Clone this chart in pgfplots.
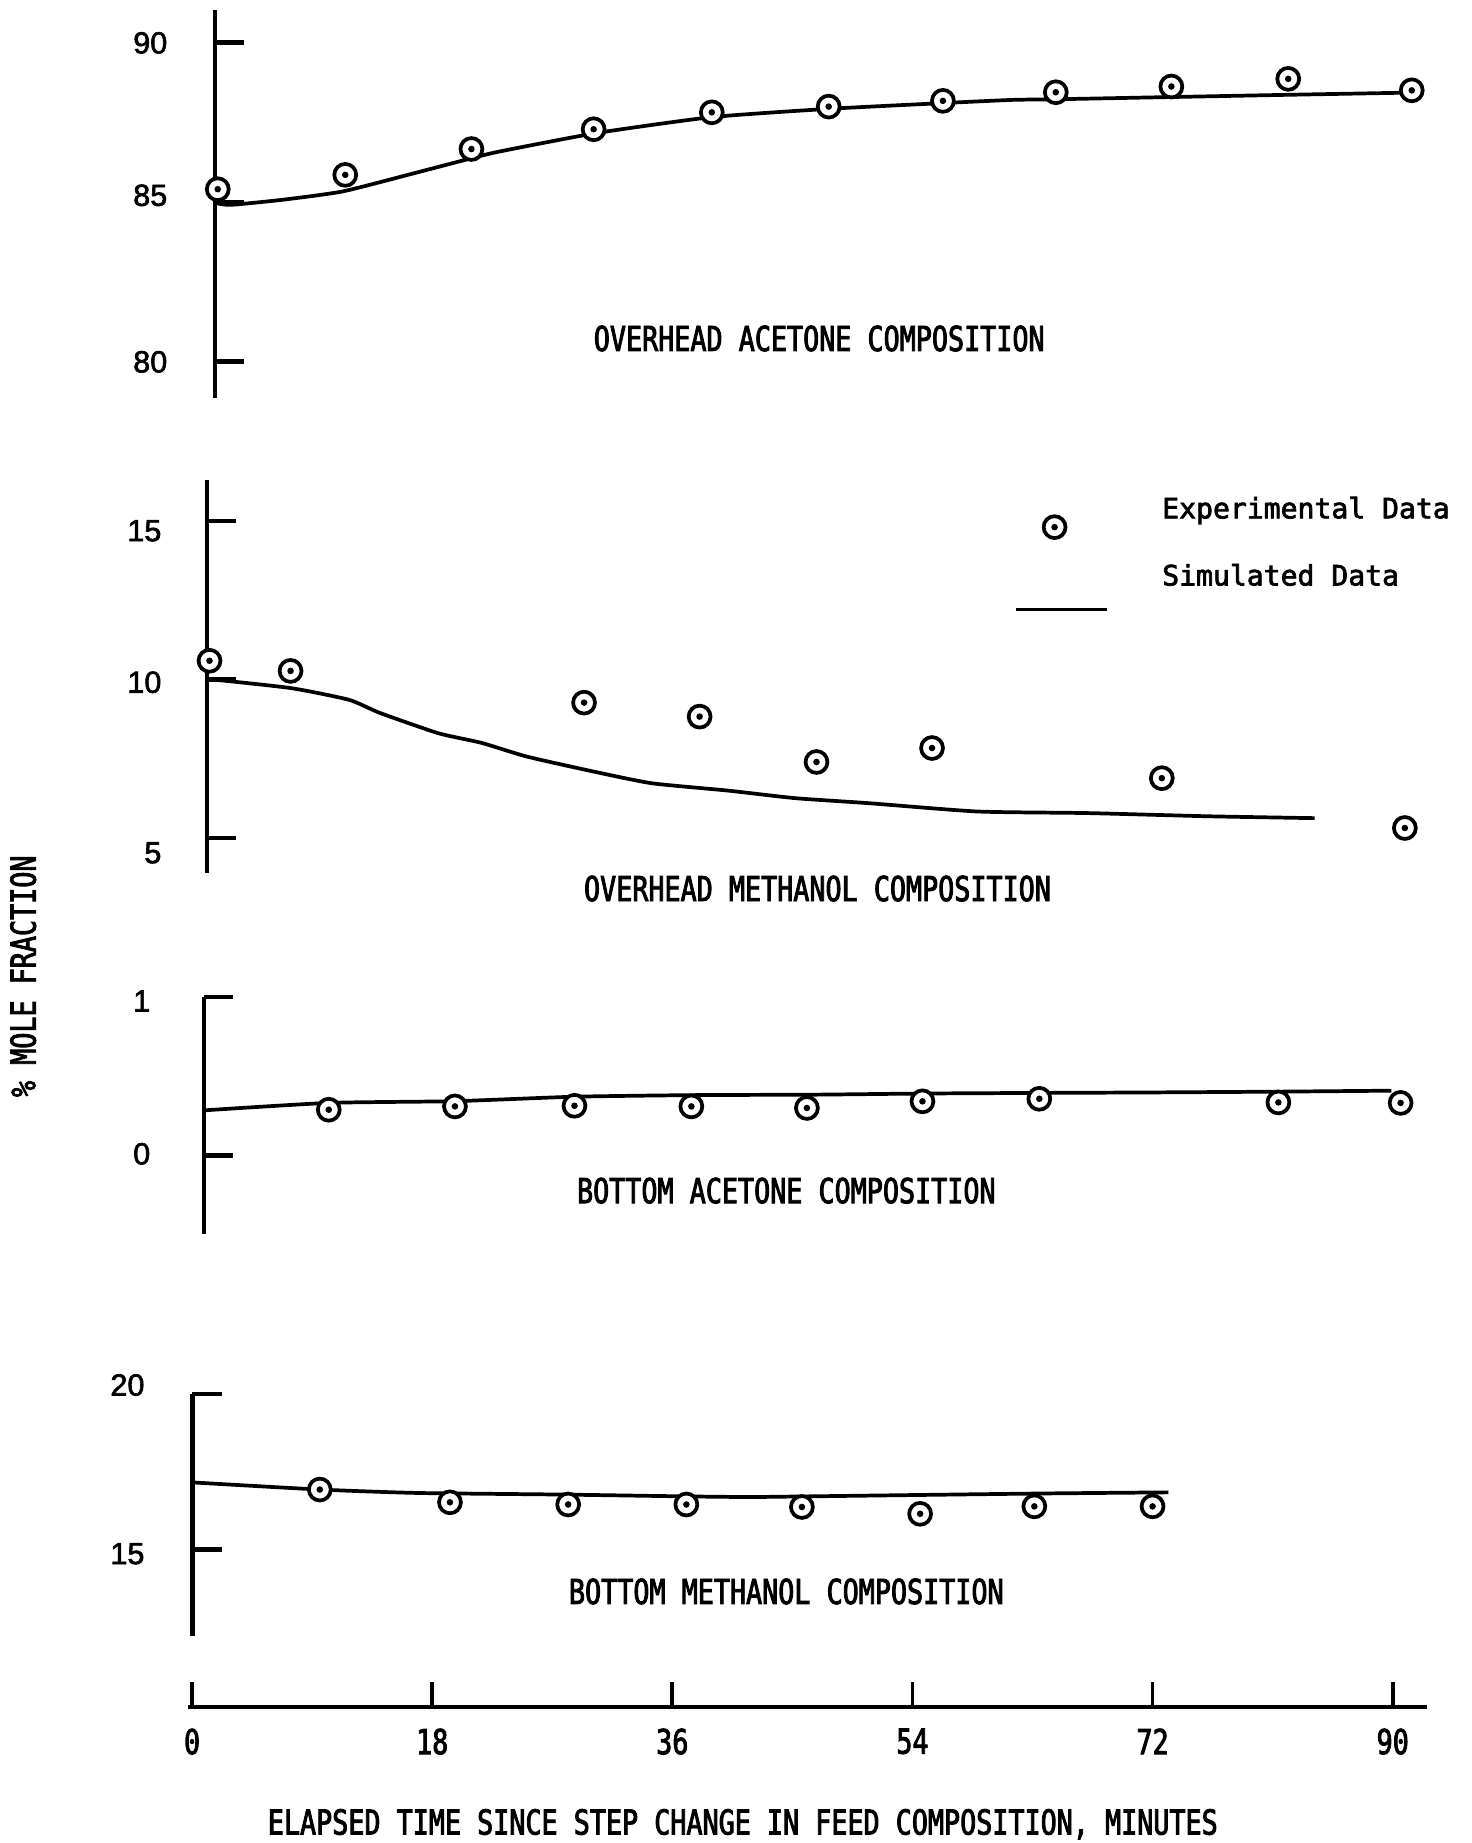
\documentclass[border=0pt]{standalone}
\usepackage{fontspec}
\usepackage{pgfplots}
\pgfplotsset{compat=1.18}

% typewriter-like faces
\newfontfamily\tw[FakeStretch=0.78, FakeBold=2.5]{DejaVu Sans Mono}
\newfontfamily\twl[FakeBold=2.5]{DejaVu Sans Mono}
\newfontfamily\num[FakeBold=2]{Liberation Sans}
\newcommand\labelfont{\tw\fontsize{8.3}{10}\selectfont}
\newcommand\legfont{\twl\fontsize{6.8}{8}\selectfont}
\newcommand\numfont{\num\fontsize{7.4}{8.5}\selectfont}
% tick label with a small vertical offset (cm) from its tick
\newcommand\yl[2]{\raisebox{\dimexpr#1cm-2.65pt\relax}[0pt][0pt]{#2}}

% open circle with a centre dot
\pgfdeclareplotmark{odot}{%
  \pgfsetfillcolor{white}%
  \pgfpathcircle{\pgfpointorigin}{\pgfplotmarksize}%
  \pgfusepathqfillstroke
  \pgfsetfillcolor{black}%
  \pgfpathcircle{\pgfpointorigin}{0.3\pgfplotmarksize}%
  \pgfusepathqfill
}

\pgfplotsset{
  panel/.style={
    anchor=south west, scale only axis,
    width=10.17cm, xmin=0, xmax=90,
    axis x line=none, axis y line*=left,
    clip=false,
    axis line style={line width=1.1pt, black},
    tick align=inside, major tick length=0.25cm,
    tick style={line width=1.1pt, black},
    yticklabel style={font=\numfont, anchor=east, inner sep=0pt, xshift=-0.40cm},
  },
  sim/.style={black, line width=0.9pt, smooth, tension=0.35, mark=none},
  expt/.style={black, only marks, mark=odot, mark size=2.65pt, mark options={line width=0.9pt}},
  expt legend/.style={legend image code/.code={%
    \path (0cm,0cm) (0.78cm,0cm);
    \draw[##1] plot coordinates {(0.33cm,-0.14cm)};}},
  sim legend/.style={legend image code/.code={%
    \draw[##1] (0cm,-0.27cm) -- (0.78cm,-0.27cm);}},
}

\begin{document}
\begin{tikzpicture}
\useasboundingbox (0,0) rectangle (12.52,15.68);

% ---------------- overhead acetone ----------------
\begin{axis}[panel, at={(1.83cm,12.29cm)}, height=3.305cm,
  ymin=78.84, ymax=91.02, ytick={80,85,90},
  yticklabels={\yl{0}{80},\yl{0.06}{85},\yl{0}{90}}]
\addplot[sim] coordinates {
 (0,84.97) (1.2,84.91) (5.1,85.07) (9.6,85.33) (14.7,85.87) (19.3,86.37)
 (21.4,86.58) (28.7,87.16) (37.4,87.66) (46.2,87.92) (54.8,88.10)
 (60.0,88.20) (63.3,88.22) (72.0,88.29) (80.8,88.36) (90.1,88.43)};
\addplot[expt] coordinates {
 (0.2,85.40) (9.8,85.85) (19.3,86.66) (28.5,87.28) (37.4,87.81) (46.2,87.99)
 (54.8,88.17) (63.3,88.44) (72.0,88.62) (80.8,88.86) (90.1,88.50)};
\end{axis}

% ---------------- overhead methanol ----------------
\begin{axis}[panel, at={(1.76cm,8.252cm)}, height=3.345cm,
  ymin=3.90, ymax=16.29, ytick={5,10,15},
  yticklabels={\yl{-0.12}{5},\yl{-0.02}{10},\yl{-0.08}{15}},
  yticklabel style={xshift=0.02cm},
  legend style={draw=none, fill=none, inner sep=0pt,
    at={(0.6745,0.98)}, anchor=north west, font=\legfont,
    row sep=0.15cm,
    /tikz/every odd column/.append style={column sep=0.38cm}},
  legend cell align=left]
\addplot[sim, forget plot] coordinates {
 (0,10.02) (6.3,9.73) (10.7,9.36) (13.0,8.95) (17.4,8.31) (20.7,8.00)
 (24.1,7.57) (29.1,7.10) (33.5,6.73) (39.2,6.50) (44.3,6.26) (49.9,6.10)
 (58.0,5.84) (66.3,5.79) (75.3,5.69) (83.4,5.63)};
\addplot[expt, forget plot] coordinates {
 (0.2,10.59) (6.3,10.27) (28.4,9.27) (37.1,8.83) (45.9,7.40) (54.6,7.84)
 (71.9,6.89) (90.2,5.32)};
\addlegendimage{expt, expt legend}
\addlegendentry{Experimental Data}
\addlegendimage{sim, sim legend}
\addlegendentry{Simulated Data}
\end{axis}

% ---------------- bottom acetone ----------------
\begin{axis}[panel, at={(1.735cm,5.18cm)}, height=2.017cm,
  ymin=-0.494, ymax=1.0, ytick={0,1},
  yticklabels={\yl{0.02}{0},\yl{-0.03}{1}},
  yticklabel style={xshift=-0.05cm}]
\addplot[sim] coordinates {
 (0,0.286) (9.4,0.333) (18.9,0.344) (27.9,0.372) (36.7,0.382) (46,0.385)
 (54,0.392) (63,0.396) (71.4,0.399) (80.9,0.404) (89.4,0.410)};
\addplot[expt] coordinates {
 (9.4,0.290) (18.9,0.311) (27.9,0.315) (36.7,0.311) (45.4,0.301)
 (54.1,0.343) (62.9,0.359) (80.9,0.336) (90.1,0.333)};
\end{axis}

% ---------------- bottom methanol ----------------
\begin{axis}[panel, at={(1.636cm,1.76cm)}, height=2.06cm,
  ymin=12.22, ymax=20, ytick={15,20},
  yticklabels={\yl{-0.03}{15},\yl{0.08}{20}}]
\addplot[sim] coordinates {
 (0,17.16) (9.6,16.93) (17.0,16.82) (27.6,16.77) (37.2,16.71) (41.9,16.69)
 (46.2,16.71) (63.2,16.80) (73.5,16.84)};
\addplot[expt] coordinates {
 (9.6,16.93) (19.4,16.52) (28.3,16.45) (37.2,16.45) (45.9,16.37)
 (54.8,16.15) (63.4,16.39) (72.3,16.39)};
\end{axis}

% ---------------- time axis ----------------
\begin{axis}[at={(1.60cm,1.16cm)}, anchor=south west, scale only axis,
  width=10.544cm, height=1cm,
  xmin=-0.3, xmax=92.6, ymin=0, ymax=1,
  axis y line=none, axis x line*=bottom,
  axis line style={line width=0.9pt, black},
  xtick={0,18,36,54,72,90}, xticklabels={0,18,36,54,72,90},
  tick align=inside, major tick length=0.21cm,
  tick style={line width=0.9pt, black},
  xticklabel style={font=\labelfont, anchor=north, inner sep=0pt, yshift=-0.18cm}]
\end{axis}

% ---------------- captions ----------------
\node[font=\labelfont] at (6.97,12.80) {OVERHEAD ACETONE COMPOSITION};
\node[font=\labelfont] at (6.955,8.12) {OVERHEAD METHANOL COMPOSITION};
\node[font=\labelfont] at (6.69,5.55) {BOTTOM ACETONE COMPOSITION};
\node[font=\labelfont] at (6.69,2.14) {BOTTOM METHANOL COMPOSITION};
\node[font=\labelfont, rotate=90] at (0.197,7.374) {\% MOLE FRACTION};
\node[font=\labelfont] at (6.32,0.16) {ELAPSED TIME SINCE STEP CHANGE IN FEED COMPOSITION, MINUTES};
\end{tikzpicture}
\end{document}
